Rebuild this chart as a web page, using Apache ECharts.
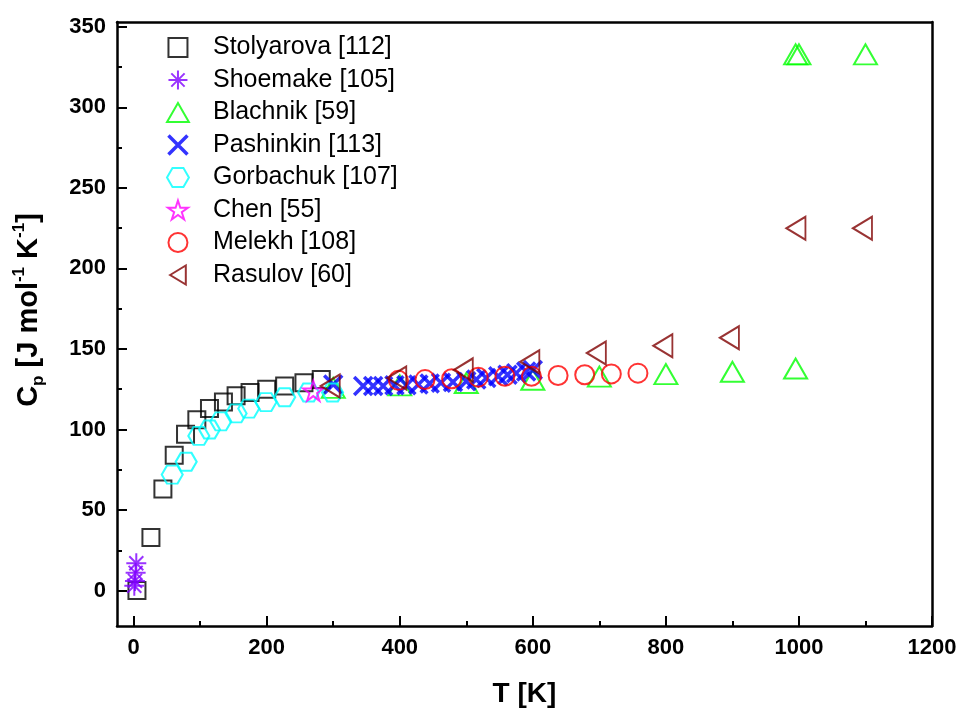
<!DOCTYPE html>
<html>
<head>
<meta charset="utf-8">
<script src="https://cdn.jsdelivr.net/npm/echarts@6/dist/echarts.min.js"></script>
<style>
  html, body { margin: 0; padding: 0; background: #fff; }
  #chart { width: 959px; height: 709px; }
</style>
</head>
<body>
<div id="chart"></div>
<script>
// values, [T in K, Cp in J mol-1 K-1]
const stolyarova = [[5, 0], [26, 33], [44, 63], [61, 84], [78, 97], [95, 106], [114, 113], [135, 117],
  [154, 121], [175, 123], [200, 125], [227, 127], [256, 129], [282, 131]]
const shoemake = [[1, 3], [2, 6], [3, 11], [4, 17]]
const blachnik = [[300, 124], [400, 125.5], [500, 127], [600, 129], [700, 131], [800, 132.5], [900, 134],
  [995, 136], [995, 331], [1000, 331], [1100, 331]]
const pashinkin = [[300, 128], [345, 127], [360, 127], [375, 127], [392, 127.5], [410, 127.5], [428, 128],
  [445, 128.5], [462, 129], [480, 129.5], [500, 130], [515, 131], [530, 132], [548, 133], [562, 134],
  [575, 135], [590, 136], [600, 137]]
const gorbachuk = [[58, 72], [79, 80], [98, 96], [114, 100], [131, 105], [154, 110], [173, 113], [199, 117],
  [227, 120], [263, 123], [299, 123]]
const chen = [[270, 124]]
const melekh = [[398, 130.5], [438, 131], [478, 131.5], [518, 132.5], [558, 133], [598, 133], [638, 133.5],
  [678, 134], [718, 134.5], [758, 135]]
const rasulov = [[300, 127], [400, 132], [500, 137], [600, 142], [700, 147.5], [800, 152], [900, 157],
  [1000, 225], [1100, 225]]

const xTicks = [0, 200, 400, 600, 800, 1000, 1200]
const xMinor = [100, 300, 500, 700, 900, 1100]
const yTicks = [0, 50, 100, 150, 200, 250, 300, 350]
const yMinor = [25, 75, 125, 175, 225, 275, 325]

const FONT = "'Liberation Sans', Arial, sans-serif"

// marker shapes (hollow, Origin style)
const SQUARE = 'path://M0,0H10V10H0Z'
const ASTER = 'path://M10,0L10,20M0,10L20,10M3,3L17,17M17,3L3,17'
const UPTRI = 'path://M0,20L11.5,0L23,20Z'
const CROSS = 'path://M0,0L10,10M10,0L0,10'
const HEXA = 'path://M0,5.2L3,0L9,0L12,5.2L9,10.4L3,10.4Z'
const STAR = 'path://M10,0L12.25,6.91L19.51,6.91L13.63,11.18L15.88,18.09L10,13.82L4.12,18.09L6.37,11.18L0.49,6.91L7.75,6.91Z'
const CIRC = 'path://M10,0A10,10 0 1,1 10,20A10,10 0 1,1 10,0Z'
const LTRI = 'path://M0,11.5L19,0L19,23Z'

function scatter (name, data, symbol, size, color, width, offset) {
  return {
    name: name,
    type: 'scatter',
    data: data,
    symbol: symbol,
    symbolSize: size,
    symbolOffset: offset || [0, 0],
    itemStyle: { color: 'rgba(0,0,0,0)', borderColor: color, borderWidth: width },
    emphasis: { disabled: true }
  }
}

const chart = echarts.init(document.getElementById('chart'))

const frameLine = { show: true, onZero: false, lineStyle: { color: '#000', width: 2.5 } }
const noLine = { show: false, onZero: false }
const tickFont = { color: '#000', fontFamily: FONT, fontWeight: 'bold', fontSize: 22 }

const option = {
  animation: false,
  backgroundColor: '#fff',
  grid: { left: 117, right: 27, top: 22, bottom: 83, outerBoundsMode: 'none', containLabel: false },
  legend: {
    orient: 'vertical',
    left: 161,
    top: 30,
    itemWidth: 60,
    itemHeight: 19,
    itemGap: 7.5,
    textStyle: { fontFamily: FONT, fontSize: 25, lineHeight: 25, color: '#000' },
    data: [
      { name: 'Stolyarova [112]' },
      { name: 'Shoemake [105]' },
      { name: 'Blachnik [59]' },
      { name: 'Pashinkin [113]', itemStyle: { borderWidth: 3.5 } },
      { name: 'Gorbachuk [107]' },
      { name: 'Chen [55]' },
      { name: 'Melekh [108]' },
      { name: 'Rasulov [60]' }
    ]
  },
  xAxis: [
    {
      type: 'value',
      min: -25,
      max: 1200,
      position: 'bottom',
      axisLine: frameLine,
      splitLine: { show: false },
      axisTick: { show: true, inside: true, length: 10, customValues: xTicks, lineStyle: { color: '#000', width: 2 } },
      axisLabel: Object.assign({ customValues: xTicks, margin: 11, formatter: v => String(v) }, tickFont),
      name: 'T [K]',
      nameLocation: 'middle',
      nameGap: 54,
      nameTextStyle: { color: '#000', fontFamily: FONT, fontWeight: 'bold', fontSize: 28 }
    },
    {
      type: 'value', min: -25, max: 1200, position: 'bottom',
      axisLine: noLine, splitLine: { show: false }, axisLabel: { show: false },
      axisTick: { show: true, inside: true, length: 5, customValues: xMinor, lineStyle: { color: '#000', width: 2 } }
    },
    {
      type: 'value', min: -25, max: 1200, position: 'top',
      axisLine: frameLine, splitLine: { show: false }, axisLabel: { show: false }, axisTick: { show: false }
    }
  ],
  yAxis: [
    {
      type: 'value',
      min: -22,
      max: 353,
      position: 'left',
      axisLine: frameLine,
      splitLine: { show: false },
      axisTick: { show: true, inside: true, length: 10, customValues: yTicks, lineStyle: { color: '#000', width: 2 } },
      axisLabel: Object.assign({ customValues: yTicks, margin: 11 }, tickFont),
      name: '{b|C}{sub|p}{b| [J mol}{sup|-1}{b| K}{sup|-1}{b|]}',
      nameLocation: 'middle',
      nameRotate: 90,
      nameGap: 70,
      nameTextStyle: {
        color: '#000',
        padding: [0, 0, 0, 28],
        rich: {
          b: { fontFamily: FONT, fontWeight: 'bold', fontSize: 29, lineHeight: 36, color: '#000' },
          sub: { fontFamily: FONT, fontWeight: 'bold', fontSize: 17, lineHeight: 14, verticalAlign: 'bottom', color: '#000' },
          sup: { fontFamily: FONT, fontWeight: 'bold', fontSize: 17, lineHeight: 17, verticalAlign: 'top', color: '#000' }
        }
      }
    },
    {
      type: 'value', min: -22, max: 353, position: 'left',
      axisLine: noLine, splitLine: { show: false }, axisLabel: { show: false },
      axisTick: { show: true, inside: true, length: 5, customValues: yMinor, lineStyle: { color: '#000', width: 2 } }
    },
    {
      type: 'value', min: -22, max: 353, position: 'right',
      axisLine: frameLine, splitLine: { show: false }, axisLabel: { show: false }, axisTick: { show: false }
    }
  ],
  series: [
    scatter('Stolyarova [112]', stolyarova, SQUARE, 17, '#000000', 2),
    scatter('Shoemake [105]', shoemake, ASTER, 20, '#8000ff', 2),
    scatter('Blachnik [59]', blachnik, UPTRI, [23, 20], '#00ff00', 2, [0, -3]),
    scatter('Pashinkin [113]', pashinkin, CROSS, 18, '#0000ff', 3.5),
    scatter('Gorbachuk [107]', gorbachuk, HEXA, [21, 18], '#00ffff', 2),
    scatter('Chen [55]', chen, STAR, 20, '#ff00ff', 2),
    scatter('Melekh [108]', melekh, CIRC, 19, '#ff0000', 2),
    scatter('Rasulov [60]', rasulov, LTRI, [19, 23], '#800000', 2, [-3, 0])
  ]
}

chart.setOption(option)
</script>
</body>
</html>
